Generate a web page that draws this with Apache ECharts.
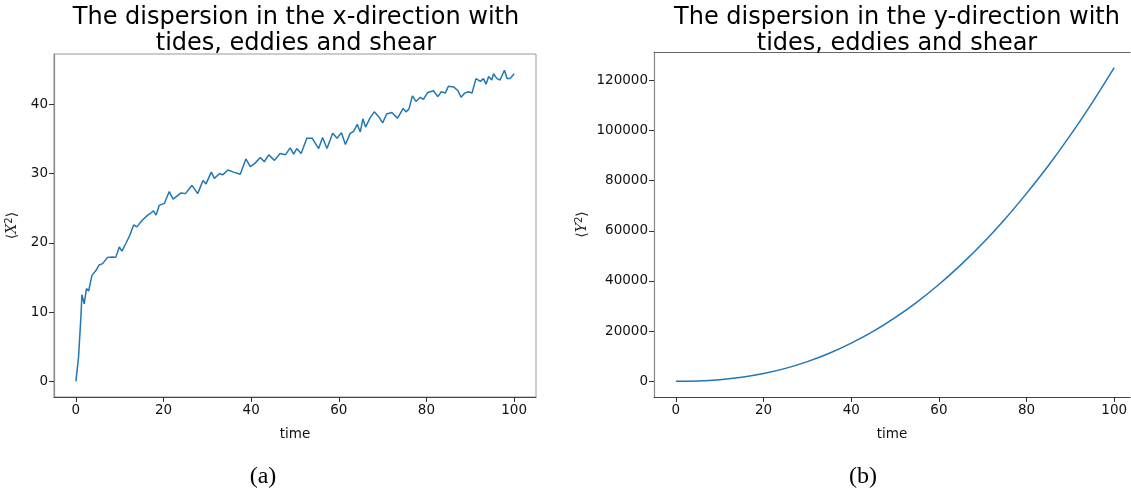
<!DOCTYPE html>
<html>
<head>
<meta charset="utf-8">
<script src="https://cdn.jsdelivr.net/npm/echarts@6/dist/echarts.min.js"></script>
<style>
  html, body { margin: 0; padding: 0; background: #fff; }
  #chart { width: 1131px; height: 494px; }
</style>
</head>
<body>
<div id="chart"></div>
<script>
// Mean square displacement in x: sample times and values
const timeX = [0, 0.6, 1.14, 1.37, 1.9, 2.4, 2.9, 3.66, 4.57, 5.3, 6.1, 7.2, 8.4, 9.1, 9.9, 10.5, 11.4, 12.3, 13.2, 13.9,
  15.2, 16.4, 17.1, 17.7, 18.3, 19.0, 20.2, 21.3, 22.2, 24.0, 25.0, 26.5, 27.8, 29.0, 29.7, 30.9, 31.6, 32.8, 33.5, 34.7,
  36.0, 37.5, 38.8, 39.8, 40.9, 42.1, 43.0, 44.0, 45.3, 46.6, 47.8, 48.9, 49.7, 50.4, 51.4, 52.7, 53.9, 55.4, 56.3, 57.3,
  58.6, 59.6, 60.6, 61.5, 62.6, 63.4, 64.2, 64.9, 65.5, 66.1, 67.2, 68.1, 69.1, 70.0, 70.9, 72.1, 73.4, 74.7, 75.3, 76.0,
  76.8, 77.6, 78.6, 79.3, 80.3, 81.6, 82.6, 83.4, 84.3, 85.0, 86.2, 87.2, 87.9, 88.7, 89.6, 90.4, 91.3, 92.3, 93.0, 93.6,
  94.2, 94.9, 95.3, 96.1, 96.8, 97.8, 98.4, 99.1, 100];
const meanX2 = [0, 3.5, 9.3, 12.5, 11.2, 13.4, 13.05, 15.3, 16.0, 16.8, 17.0, 17.9, 17.96, 17.9, 19.4, 18.8, 19.9, 21.1, 22.6, 22.3,
  23.3, 24.0, 24.3, 24.6, 24.0, 25.4, 25.7, 27.4, 26.3, 27.2, 27.1, 28.3, 27.1, 29.0, 28.5, 30.2, 29.3, 30.0, 29.8, 30.5,
  30.2, 29.9, 32.1, 31.0, 31.5, 32.3, 31.7, 32.7, 31.9, 32.9, 32.7, 33.7, 32.8, 33.6, 32.9, 35.1, 35.1, 33.6, 35.2, 33.6,
  35.8, 35.1, 35.9, 34.2, 35.8, 36.1, 37.1, 36.0, 37.9, 36.7, 38.1, 38.9, 38.2, 37.3, 38.6, 38.8, 38.0, 39.4, 38.9, 39.3,
  41.2, 40.4, 41.0, 40.7, 41.7, 41.95, 41.1, 41.8, 41.6, 42.6, 42.5, 41.95, 41.0, 41.6, 41.8, 41.6, 43.7, 43.3, 43.7, 42.9,
  44.0, 43.5, 44.4, 43.7, 43.5, 44.9, 43.7, 43.7, 44.4];

// Mean square displacement in y
const timeY = [0, 5, 10, 15, 20, 25, 30, 35, 40, 45, 50, 55, 60, 65, 70, 75, 80, 85, 90, 95, 100];
const meanY2 = [0, 130, 630, 1600, 3100, 5150, 7850, 11200, 15250, 19900, 25400, 31600, 38600, 46400, 55000, 64500,
  74900, 86000, 98100, 111100, 125000];

// Tick positions
const timeTicks = [0, 20, 40, 60, 80, 100];
const xTicks = [0, 10, 20, 30, 40];
const yTicks = [0, 20000, 40000, 60000, 80000, 100000, 120000];

const titles = ['The dispersion in the x-direction with\ntides, eddies and shear',
                'The dispersion in the y-direction with\ntides, eddies and shear'];
const captions = ['(a)', '(b)'];

const lineColor = '#1f77b4';
const baseFont = 'DejaVu Sans';
const tickSize = 13.5;

function pairs(xs, ys) { return xs.map((x, i) => [x, ys[i]]); }

function xAxisCfg(gridIndex, max) {
  return {
    type: 'value', gridIndex, min: -5, max,
    name: 'time', nameLocation: 'middle', nameGap: 30,
    nameTextStyle: { color: '#111', fontSize: tickSize, fontFamily: baseFont },
    axisLine: { show: true, onZero: false, lineStyle: { color: '#444', width: 1.2 } },
    axisTick: { show: true, length: 5, customValues: timeTicks, lineStyle: { color: '#333' } },
    axisLabel: { customValues: timeTicks, color: '#111', fontSize: tickSize, fontFamily: baseFont, margin: 6 },
    splitLine: { show: false }
  };
}

function yAxisCfg(gridIndex, min, max, ticks, name, gap) {
  return {
    type: 'value', gridIndex, min, max,
    name, nameLocation: 'middle', nameGap: gap,
    nameTextStyle: {
      color: '#222', fontSize: 14, fontFamily: baseFont,
      rich: {
        v: { fontSize: 14, fontStyle: 'italic', fontFamily: 'DejaVu Serif', color: '#222' },
        s: { fontSize: 10, verticalAlign: 'top', color: '#222', padding: [0, 0, 6, 0] }
      }
    },
    axisLine: { show: true, onZero: false, lineStyle: { color: '#888', width: 1.2 } },
    axisTick: { show: true, length: 5, customValues: ticks, lineStyle: { color: '#333' } },
    axisLabel: { customValues: ticks, color: '#111', fontSize: tickSize, fontFamily: baseFont, margin: 6,
      formatter: v => String(v) },
    splitLine: { show: false }
  };
}

const chart = echarts.init(document.getElementById('chart'), null, { renderer: 'canvas' });
chart.setOption({
  backgroundColor: '#fff',
  animation: false,
  title: [
    { text: titles[0], left: 291, top: 0, textAlign: 'center',
      textStyle: { fontFamily: baseFont, fontSize: 24, fontWeight: 'normal', color: '#000', lineHeight: 26 } },
    { text: titles[1], left: 892, top: 0, textAlign: 'center',
      textStyle: { fontFamily: baseFont, fontSize: 24, fontWeight: 'normal', color: '#000', lineHeight: 26 } },
    { text: captions[0], left: 258, top: 460, textAlign: 'center',
      textStyle: { fontFamily: 'Liberation Serif', fontSize: 24, fontWeight: 'normal', color: '#000' } },
    { text: captions[1], left: 858, top: 460, textAlign: 'center',
      textStyle: { fontFamily: 'Liberation Serif', fontSize: 24, fontWeight: 'normal', color: '#000' } }
  ],
  grid: [
    { left: 54, top: 54, width: 482, height: 343, show: true, borderColor: '#999', borderWidth: 1, containLabel: false },
    // right panel runs off the page edge, so its right spine is not drawn
    { left: 654, top: 52, right: 1, height: 345, show: false, containLabel: false }
  ],
  xAxis: [
    xAxisCfg(0, 105),
    xAxisCfg(1, 103.6),
    { type: 'value', gridIndex: 1, position: 'top', min: -5, max: 103.6,
      axisLine: { show: true, onZero: false, lineStyle: { color: '#666', width: 1.2 } },
      axisTick: { show: false }, axisLabel: { show: false }, splitLine: { show: false } }
  ],
  yAxis: [
    yAxisCfg(0, -2.25, 47.25, xTicks, '⟨{v|X}{s|2}⟩', 34),
    yAxisCfg(1, -6250, 131250, yTicks, '⟨{v|Y}{s|2}⟩', 64)
  ],
  series: [
    { type: 'line', xAxisIndex: 0, yAxisIndex: 0, data: pairs(timeX, meanX2), showSymbol: false,
      lineStyle: { color: lineColor, width: 1.5 } },
    { type: 'line', xAxisIndex: 1, yAxisIndex: 1, data: pairs(timeY, meanY2), showSymbol: false, smooth: 0.3,
      lineStyle: { color: lineColor, width: 1.5 } }
  ]
});
</script>
</body>
</html>
